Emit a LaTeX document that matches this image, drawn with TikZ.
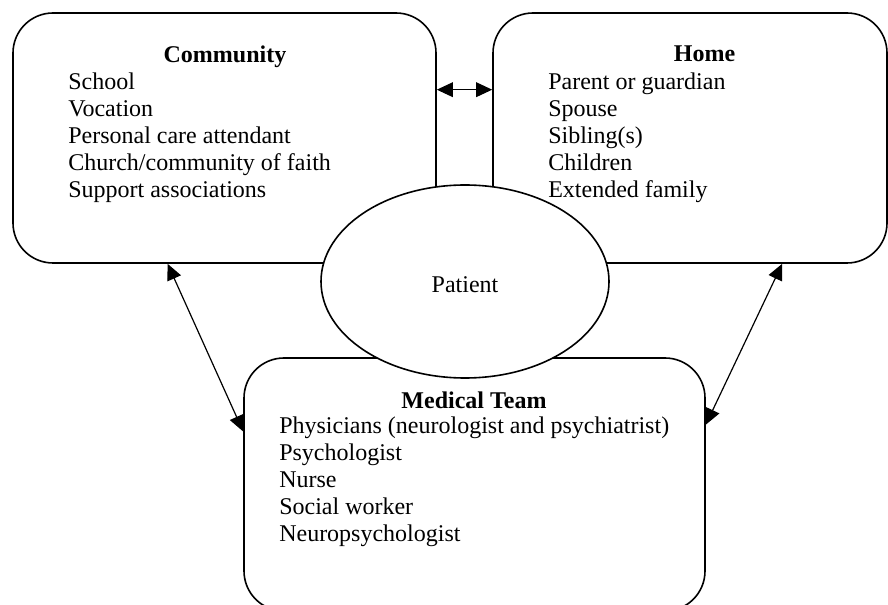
\documentclass[tikz,border=0pt]{standalone}
\usepackage{fontspec}
\setmainfont{Liberation Serif}
\usetikzlibrary{arrows.meta,calc,shapes.geometric}
\begin{document}
\begin{tikzpicture}[x=0.75pt,y=-0.75pt,
  box/.style={draw,line width=1.2pt,rounded corners=30pt,inner sep=0pt,fill=white},
  txt/.style={font=\fontsize{18}{20}\selectfont,inner sep=0pt,anchor=base west},
  ttl/.style={font=\fontsize{18}{20}\selectfont\bfseries,inner sep=0pt,anchor=base},
  link/.style={line width=0.9pt,{Triangle[length=12pt,width=11pt]}-{Triangle[length=12pt,width=11pt]}}]
\useasboundingbox (0,0) rectangle (888,605);
% boxes
\node[box,minimum width=317.25pt,minimum height=187.5pt] (community) at (224.5,138) {};
\node[box,minimum width=295.5pt,minimum height=187.5pt] (home) at (690,138) {};
\node[box,minimum width=345.75pt,minimum height=189.75pt] (medical) at (474.5,484.5) {};
% texts
\node[ttl] (ctitle) at (225,63) {Community};
\foreach \t [count=\i from 0] in {School,Vocation,Personal care attendant,Church/community of faith,Support associations}
  \node[txt] (citem\i) at (68,89.5+27*\i) {\t};
\node[ttl] (htitle) at (704.5,62) {Home};
\foreach \t [count=\i from 0] in {Parent or guardian,Spouse,Sibling(s),Children,Extended family}
  \node[txt] (hitem\i) at (548,89.5+27*\i) {\t};
\node[ttl] (mtitle) at (474,408) {Medical Team};
\foreach \t [count=\i from 0] in {Physicians (neurologist and psychiatrist),Psychologist,Nurse,Social worker,Neuropsychologist}
  \node[txt] (mitem\i) at (279,433+27.2*\i) {\t};
% connectors
\draw[link] ($(community.north east)!0.308!(community.south east)$) -- ($(home.north west)!0.308!(home.south west)$);
\draw[link] ($(community.south west)!0.366!(community.south east)$) -- ($(medical.north west)!0.292!(medical.south west)$);
\draw[link] ($(home.south west)!0.733!(home.south east)$) -- ($(medical.north east)!0.265!(medical.south east)$);
% patient
\node[draw,ellipse,line width=1.2pt,fill=white,minimum width=216pt,minimum height=144.75pt,inner sep=0pt] (patient) at (465,281.5) {};
\node[font=\fontsize{18}{20}\selectfont,inner sep=0pt,anchor=base] (plabel) at (465,293) {Patient};
\end{tikzpicture}
\end{document}
